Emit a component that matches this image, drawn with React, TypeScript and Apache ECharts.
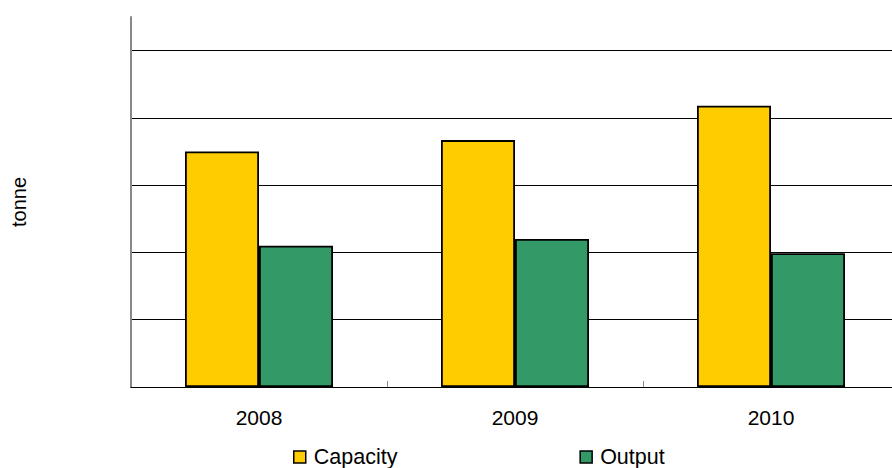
import React, { useEffect, useRef } from "react";
import * as echarts from "echarts";

const categories = ["2008", "2009", "2010"];
const capacity = [3.5, 3.67, 4.18];
const output = [2.1, 2.2, 1.99];
const seriesNames = ["Capacity", "Output"];
const yName = "tonne";

const FONT = "'Liberation Sans', Arial, sans-serif";

export default function App() {
  const ref = useRef<HTMLDivElement>(null);
  useEffect(() => {
    if (!ref.current) return;
    const chart = echarts.init(ref.current, undefined, { renderer: "svg" });
    chart.setOption({
      animation: false,
      backgroundColor: "#ffffff",
      textStyle: { fontFamily: FONT },
      grid: { left: 131, right: 1, top: 17, bottom: 81 },
      legend: {
        data: seriesNames,
        left: 293,
        top: 446,
        padding: 0,
        icon: "rect",
        itemWidth: 12,
        itemHeight: 12,
        itemGap: 182,
        textStyle: { fontFamily: FONT, fontSize: 21.5, color: "#000", lineHeight: 21, padding: [0, 0, 0, 3] },
        itemStyle: { borderColor: "#000", borderWidth: 1.5 },
      },
      xAxis: {
        type: "category",
        data: categories,
        axisLine: { lineStyle: { color: "#000", width: 1 } },
        axisTick: { show: true, inside: true, length: 6, lineStyle: { color: "#888", width: 1 } },
        axisLabel: { fontFamily: FONT, fontSize: 21, color: "#000", margin: 20 },
        splitLine: { show: false },
      },
      yAxis: {
        type: "value",
        min: 0,
        max: 5.5,
        interval: 1,
        name: yName,
        nameLocation: "middle",
        nameRotate: 90,
        nameGap: 102,
        nameTextStyle: { fontFamily: FONT, fontSize: 20, color: "#000" },
        axisLine: { show: true, lineStyle: { color: "#888", width: 2 } },
        axisTick: { show: false },
        axisLabel: { show: false },
        splitLine: { show: true, showMaxLine: false, lineStyle: { color: "#000", width: 1 } },
      },
      series: [
        {
          name: seriesNames[0],
          type: "bar",
          data: capacity,
          barWidth: 74,
          barGap: "0%",
          itemStyle: { color: "#FFCC00", borderColor: "#000", borderWidth: 1.8 },
        },
        {
          name: seriesNames[1],
          type: "bar",
          data: output,
          barWidth: 74,
          barGap: "0%",
          itemStyle: { color: "#339966", borderColor: "#000", borderWidth: 1.8 },
        },
      ],
    });
    return () => chart.dispose();
  }, []);
  return (
    <div style={{ position: "absolute", left: 0, top: 0, width: 892, height: 468, overflow: "hidden" }}>
      <div ref={ref} style={{ width: 900, height: 468 }} />
    </div>
  );
}
